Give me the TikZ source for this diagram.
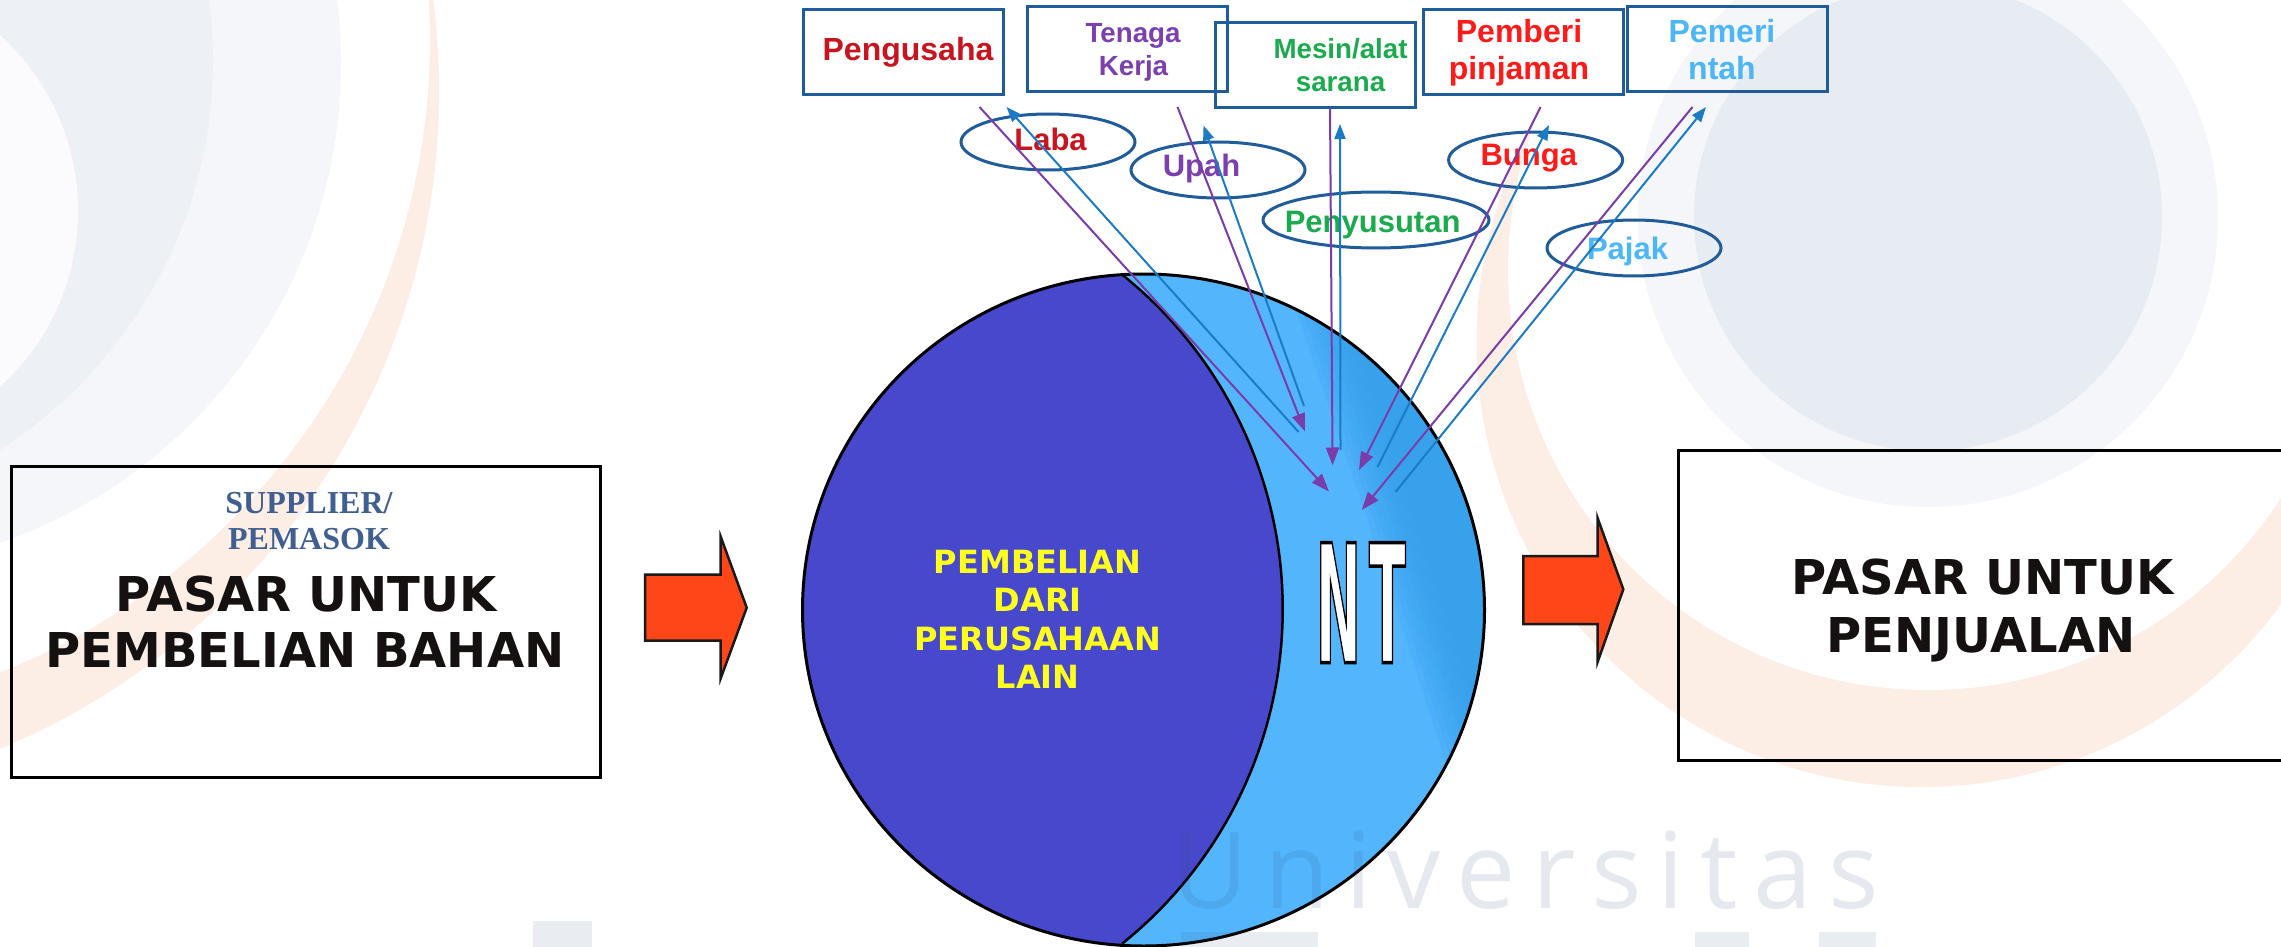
\documentclass[tikz,border=0pt]{standalone}
\usepackage{fontspec}
\setmainfont{Liberation Sans}
\newfontfamily\blockfont{DejaVu Sans}
\newfontfamily\serifhead{Liberation Serif}
\newfontfamily\markfont{Open Sans}
\usetikzlibrary{arrows.meta,shapes.geometric,calc}

\definecolor{boxblue}{HTML}{1F5C99}
\definecolor{flowpurple}{HTML}{7A3CA8}
\definecolor{flowblue}{HTML}{1C7BC4}
\definecolor{darkred}{HTML}{C8141E}
\definecolor{brightred}{HTML}{FF1A1A}
\definecolor{labpurple}{HTML}{7B3FAE}
\definecolor{labgreen}{HTML}{1BAA4E}
\definecolor{labsky}{HTML}{4DB6F7}
\definecolor{firmdark}{HTML}{4848CC}
\definecolor{firmlight}{HTML}{53B6FC}
\definecolor{firmshade}{RGB}{53,159,236}
\definecolor{blockred}{HTML}{FF4619}
\definecolor{supplierblue}{HTML}{3F5F91}
\definecolor{inkblack}{HTML}{151111}
\definecolor{sunyellow}{HTML}{FFFF1E}
\definecolor{wmlight}{HTML}{F4F6F9}
\definecolor{wmgrey}{HTML}{EDF0F5}
\definecolor{wmdisc}{HTML}{E7EBF2}
\definecolor{wmpeach}{HTML}{FCEDE5}
\definecolor{wmink}{RGB}{47,72,122}

\tikzset{
  topbox/.style={draw=boxblue, line width=3pt, minimum width=200pt, minimum height=85pt, inner sep=0pt},
  bigbox/.style={draw=black, line width=3pt, inner sep=0pt},
  labeloval/.style={ellipse, draw=boxblue, line width=3pt, minimum width=174pt, minimum height=56pt, inner sep=0pt},
  boxline/.style={anchor=base, inner sep=0pt, font=\bfseries\fontsize{32}{38}\selectfont},
  smallline/.style={anchor=base, inner sep=0pt, font=\bfseries\fontsize{27.7}{33}\selectfont},
  ovaltext/.style={anchor=base, inner sep=0pt, font=\bfseries\fontsize{31}{36}\selectfont},
  heading/.style={anchor=base, inner sep=0pt, text=inkblack, font=\blockfont\bfseries\fontsize{48}{56}\selectfont},
  firmtext/.style={anchor=base, inner sep=0pt, text=sunyellow, font=\blockfont\bfseries\fontsize{32}{38}\selectfont},
  suppliertext/.style={anchor=base, inner sep=0pt, text=supplierblue, font=\serifhead\bfseries\fontsize{32}{36}\selectfont},
  outflow/.style={draw=flowpurple, line width=2pt, -{Triangle[length=18pt,width=13pt]}},
  inflow/.style={draw=flowblue, line width=2pt, -{Triangle[length=15pt,width=11pt]}},
  blockarrow/.style={fill=blockred, draw=black!90, line width=2.5pt, line join=miter},
}

\begin{document}
\begin{tikzpicture}[x=1pt,y=-1pt]
\useasboundingbox (0,0) rectangle (2281,947);
\fill[white] (0,0) rectangle (2281,947);

% faint logo artwork in the background
\begin{scope}
  \clip (0,0) rectangle (2281,947);
  \fill[wmlight] (-167,63) circle[radius=508];
  \fill[wmgrey] (-250,60) circle[radius=463];
  \fill[white!60!wmlight] (-159,211) circle[radius=237];
  \fill[wmpeach, even odd rule] (-273,91) circle[radius=712] (-250,40) circle[radius=680];
  \fill[wmpeach] (1921.5,342) circle[radius=445];
  \fill[white] (1928,270) circle[radius=420];
  \fill[wmlight] (1928,217) circle[radius=290];
  \fill[wmdisc] (1928,217) circle[radius=234];
\end{scope}

% markets on both sides
\node[bigbox, minimum width=589pt, minimum height=311pt] (buybox) at (305.5,621.5) {};
\node[bigbox, minimum width=622pt, minimum height=310pt] (sellbox) at (1989,605) {};

\node[suppliertext] (sup1) at (309,513.3) {SUPPLIER/};
\node[suppliertext] (sup2) at (309,549.5) {PEMASOK};
\node[heading] (buy1) at (306,611) {PASAR UNTUK};
\node[heading] (buy2) at (305,667.3) {PEMBELIAN BAHAN};
\node[heading] (sell1) at (1982.6,594.8) {PASAR UNTUK};
\node[heading] (sell2) at (1981,652.2) {PENJUALAN};

% flow arrows between the markets and the firm
\draw[blockarrow] (645,574.5) -- (720.7,574.5) -- (720.7,536.7) -- (746.7,607.7)
  -- (720.7,678.3) -- (720.7,640.7) -- (645,640.7) -- cycle;
\draw[blockarrow] (1523.3,556) -- (1597.7,556) -- (1597.7,518.3) -- (1623.3,589.3)
  -- (1597.7,661.7) -- (1597.7,624) -- (1523.3,624) -- cycle;

% the firm: purchases (dark) and value added (light)
\coordinate (firmc) at (1143.5,610);
\fill[firmlight] (firmc) ellipse[x radius=341, y radius=336];
\begin{scope}
  \clip ($(firmc)+(-93.6:341 and 336)$) arc[start angle=-93.6, end angle=93.6, x radius=341, y radius=336]
    arc[start angle=51.3, end angle=-51.3, radius=428.6] -- cycle;
  \foreach \d in {-24,-18,-12,-6,0,6,12,18,24}
    \fill[firmshade, opacity=0.18] (1300+\d,250) -- (1405+\d,561) -- (1475+\d,780) -- (1600,800) -- (1600,250) -- cycle;
\end{scope}
\fill[firmdark] ($(firmc)+(-93.6:341 and 336)$) arc[start angle=-93.6, end angle=-266.4, x radius=341, y radius=336]
  arc[start angle=51.3, end angle=-51.3, radius=428.6] -- cycle;
\draw[line width=2.5pt] ($(firmc)+(-93.6:341 and 336)$) arc[start angle=-51.3, end angle=51.3, radius=428.6];
\node[ellipse, draw=black, line width=3pt, minimum width=682pt, minimum height=672pt, inner sep=0pt] (firm) at (firmc) {};

\node[firmtext] (ft1) at (1037.6,573) {PEMBELIAN};
\node[firmtext] (ft2) at (1037.6,611) {DARI};
\node[firmtext] (ft3) at (1037.6,650) {PERUSAHAAN};
\node[firmtext] (ft4) at (1037.6,688) {LAIN};

\node[anchor=base, inner sep=0pt, text=white] (nt) at (1360.8,662.7)
  {\special{pdf:code q 2 Tr 3.5 w 0 G}\scalebox{0.327}[1]{\blockfont\bfseries\fontsize{164.6}{170}\selectfont N\kern 25pt T}\special{pdf:code Q}};

% recipients of the value added
\node[topbox] (pengusaha) at (903.5,52) {};
\node[topbox] (tenaga) at (1127.5,49.5) {};
\node[topbox] (mesin) at (1315.5,65.5) {};
\node[topbox] (pemberi) at (1523.5,52.5) {};
\node[topbox] (pemerintah) at (1727,49.5) {};

\node[boxline, text=darkred] (t-peng) at (908,61) {Pengusaha};
\node[smallline, text=labpurple] (t-ten1) at (1133,42.7) {Tenaga};
\node[smallline, text=labpurple] (t-ten2) at (1133.5,75.5) {Kerja};
\node[smallline, text=labgreen] (t-mes1) at (1340.5,58.3) {Mesin/alat};
\node[smallline, text=labgreen] (t-mes2) at (1340.5,91.7) {sarana};
\node[boxline, text=brightred] (t-pem1) at (1519,43) {Pemberi};
\node[boxline, text=brightred] (t-pem2) at (1519,79.5) {pinjaman};
\node[boxline, text=labsky] (t-gov1) at (1722,43) {Pemeri};
\node[boxline, text=labsky] (t-gov2) at (1722,79.5) {ntah};

% payments
\node[labeloval] (laba) at (1048,142) {};
\node[labeloval] (upah) at (1218,170) {};
\node[labeloval, minimum width=226pt] (susut) at (1376,220) {};
\node[labeloval] (bunga) at (1535.6,160) {};
\node[labeloval] (pajak) at (1634,248) {};

\node[ovaltext, text=darkred] (l-laba) at (1050.5,150) {Laba};
\node[ovaltext, text=labpurple] (l-upah) at (1201.6,176.7) {Upah};
\node[ovaltext, text=labgreen] (l-susut) at (1372.6,232.3) {Penyusutan};
\node[ovaltext, text=brightred] (l-bunga) at (1528.8,165.7) {Bunga};
\node[ovaltext, text=labsky] (l-pajak) at (1627.5,259) {Pajak};

% connector end points
\coordinate (pg-out) at (979.5,107);   \coordinate (pg-in) at (1329,491.5);
\coordinate (pg-from) at (1298.5,432); \coordinate (pg-to) at (1006.5,107);
\coordinate (tk-out) at (1177.5,107);  \coordinate (tk-in) at (1305,431.5);
\coordinate (tk-from) at (1304,406);   \coordinate (tk-to) at (1203.5,125.5);
\coordinate (ms-out) at (1330,108);    \coordinate (ms-in) at (1332.6,465.5);
\coordinate (ms-from) at (1340.5,450); \coordinate (ms-to) at (1340,124);
\coordinate (pp-out) at (1540.5,107);  \coordinate (pp-in) at (1359,470);
\coordinate (pp-from) at (1377.5,467); \coordinate (pp-to) at (1549,125);
\coordinate (gv-out) at (1692.5,107);  \coordinate (gv-in) at (1361.7,510);
\coordinate (gv-from) at (1395.5,492); \coordinate (gv-to) at (1706,107);

\draw[outflow] (pg-out) -- (pg-in);
\draw[inflow] (pg-from) -- (pg-to);
\draw[outflow] (tk-out) -- (tk-in);
\draw[inflow] (tk-from) -- (tk-to);
\draw[outflow] (ms-out) -- (ms-in);
\draw[inflow] (ms-from) -- (ms-to);
\draw[outflow] (pp-out) -- (pp-in);
\draw[inflow] (pp-from) -- (pp-to);
\draw[outflow] (gv-out) -- (gv-in);
\draw[inflow] (gv-from) -- (gv-to);

% translucent lettering of the logo on top
\begin{scope}[fill=wmink, fill opacity=0.1]
  \fill (1181,932) rectangle (1318,950);
  \fill (1695,932) rectangle (1749,950);
  \fill (1819,932) rectangle (1876,950);
  \fill (533,921) rectangle (592,950);
\end{scope}
\node[anchor=base west, inner sep=0pt, text=wmink, text opacity=0.12,
  font=\markfont\fontsize{106}{110}\selectfont\addfontfeature{LetterSpace=15}] (mark) at (1171,908) {Universitas};
\end{tikzpicture}
\end{document}
